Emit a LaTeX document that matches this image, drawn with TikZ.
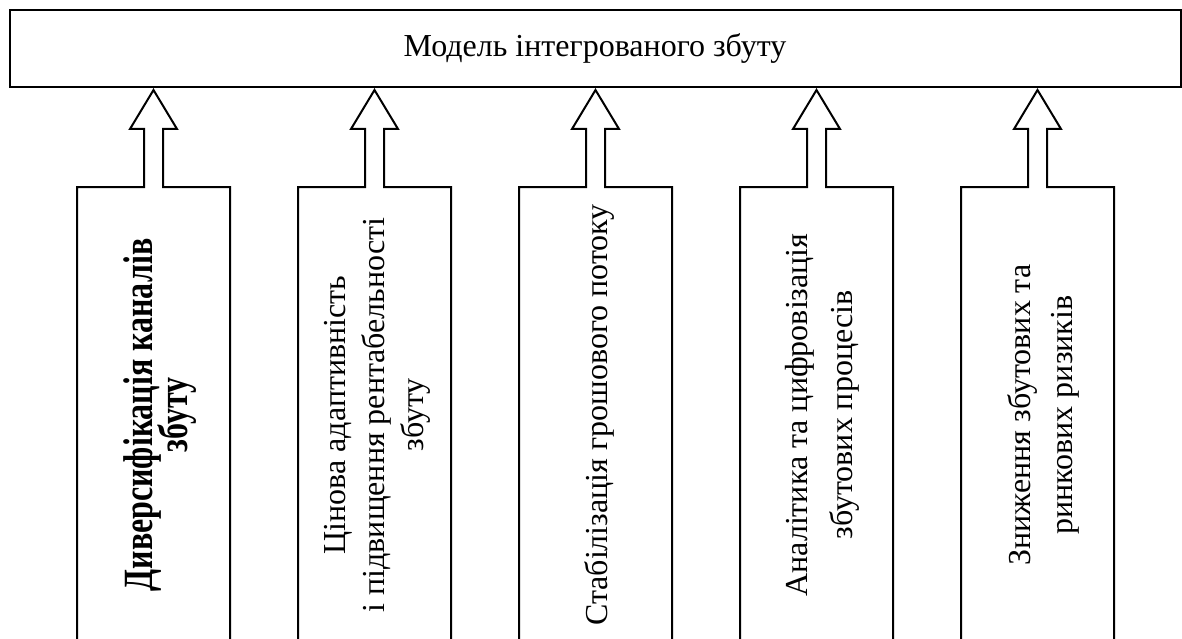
\documentclass[tikz,border=0pt]{standalone}
\usepackage{fontspec}
\setmainfont{Liberation Serif}
\usepackage{graphicx}
\usetikzlibrary{calc}
\begin{document}
\begin{tikzpicture}[x=1pt,y=-1pt,
  outl/.style={draw=black,line width=2pt,line join=miter},
  modelbox/.style={draw=black,line width=2pt,minimum width=1171pt,minimum height=77pt,inner sep=0pt,outer sep=0pt,font=\fontsize{32}{40}\selectfont},
  colbox/.style={minimum width=153pt,minimum height=456pt,inner sep=0pt,outer sep=0pt},
  vtext/.style={rotate=90,align=center,inner sep=0pt,font=\fontsize{32}{#1}\selectfont},
  vtext/.default=44
]
\useasboundingbox (0,0) rectangle (1182,639);
\node[modelbox] (model) at (595,48.5) {Модель інтегрованого збуту};
\foreach \i/\cx in {1/153.5,2/374.5,3/595.5,4/816.5,5/1037.5}{
  \node[colbox] (b\i) at (\cx,415) {};
}
\begin{scope}
\clip (0,0) rectangle (1182,639);
\foreach \i in {1,...,5}{
  \draw[outl] (b\i.south west) -- (b\i.north west)
    -- ($(b\i.north)+(-9.5,0)$) -- ($(b\i.north)+(-9.5,-58)$)
    -- ($(b\i.north)+(-23.5,-58)$) -- ($(b\i.north |- model.south)+(0,3)$)
    -- ($(b\i.north)+(23.5,-58)$) -- ($(b\i.north)+(9.5,-58)$)
    -- ($(b\i.north)+(9.5,0)$) -- (b\i.north east) -- (b\i.south east);
}
\end{scope}
\node[rotate=90,inner sep=0pt] (t1) at ($(b1.center)+(7,0)$) {\scalebox{1}[1.3]{\parbox{400pt}{\centering\bfseries\fontsize{32}{27}\selectfont\lineskiplimit=-100pt Диверсифікація каналів\\збуту}}};
\node[vtext=39] (t2) at ($(b2.center)+(3,0)$) {Цінова адаптивність\\і підвищення рентабельності\\збуту};
\node[vtext] (t3) at ($(b3.center)+(4,0)$) {Стабілізація грошового потоку};
\node[vtext=45] (t4) at ($(b4.center)+(6,0)$) {Аналітика та цифровізація\\збутових процесів};
\node[vtext=42] (t5) at ($(b5.center)+(6,0)$) {Зниження збутових та\\ринкових ризиків};
\end{tikzpicture}
\end{document}
